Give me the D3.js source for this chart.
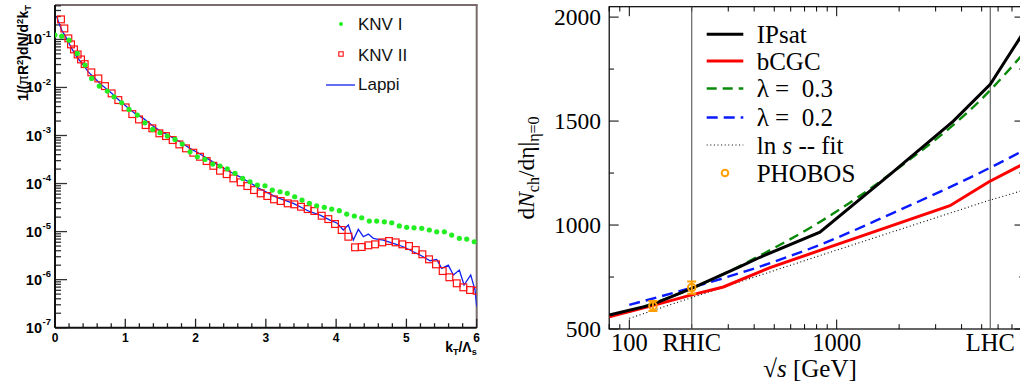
<!DOCTYPE html>
<html>
<head>
<meta charset="utf-8">
<title>kT spectra and multiplicity</title>
<script src="https://d3js.org/d3.v7.min.js"></script>
<style>
  body { margin: 0; background: #fff; }
</style>
</head>
<body>
<div id="chart"></div>
<script>
// ---------- left panel data (kT / Lambda_s , 1/(pi R^2) dN/d^2kT) ----------
const knv1K = [0.00, 0.095, 0.20, 0.317, 0.427, 0.522, 0.63, 0.744, 0.84, 0.949, 1.053, 1.171, 1.28, 1.39, 1.494,
  1.598, 1.707, 1.811, 1.921, 2.025, 2.134, 2.244, 2.348, 2.452, 2.561, 2.67, 2.775, 2.879, 2.988, 3.092, 3.202,
  3.305, 3.41, 3.515, 3.619, 3.723, 3.832, 3.937, 4.045, 4.15, 4.259, 4.364, 4.472, 4.577, 4.686, 4.791, 4.899,
  5.004, 5.108, 5.218, 5.326, 5.431, 5.54, 5.644, 5.753, 5.858, 5.966];
const knv1V = [0.123, 0.117, 0.0966, 0.0511, 0.0292, 0.0154, 0.01067, 0.00839, 0.00638, 0.0048, 0.00349, 0.00266,
  0.00184, 0.00134, 0.00114, 9.73e-4, 8.3e-4, 6.64e-4, 4.57e-4, 3.61e-4, 3.18e-4, 2.54e-4, 2.31e-4, 2.03e-4,
  1.63e-4, 1.28e-4, 1.09e-4, 9.31e-5, 9.0e-5, 7.33e-5, 6.75e-5, 6.25e-5, 5.31e-5, 4.54e-5, 3.87e-5, 3.45e-5,
  3.2e-5, 2.94e-5, 2.72e-5, 2.32e-5, 2.11e-5, 1.94e-5, 1.66e-5, 1.66e-5, 1.6e-5, 1.53e-5, 1.31e-5, 1.23e-5,
  1.2e-5, 1.17e-5, 1.08e-5, 9.93e-6, 9.93e-6, 8.47e-6, 7.24e-6, 7.0e-6, 6.15e-6];

const knv2K = [0.085, 0.133, 0.19, 0.228, 0.27, 0.322, 0.37, 0.422, 0.517, 0.617, 0.711, 0.806, 0.901, 1.005, 1.1,
  1.195, 1.29, 1.385, 1.485, 1.579, 1.674, 1.769, 1.864, 1.968, 2.063, 2.158, 2.253, 2.348, 2.443, 2.538, 2.642,
  2.737, 2.832, 2.927, 3.021, 3.116, 3.211, 3.311, 3.405, 3.5, 3.595, 3.69, 3.795, 3.889, 3.984, 4.079, 4.174,
  4.269, 4.364, 4.458, 4.553, 4.657, 4.752, 4.847, 4.942, 5.037, 5.132, 5.227, 5.322, 5.421, 5.516, 5.611, 5.716,
  5.81, 5.905, 6.0];
const knv2V = [0.261, 0.169, 0.105, 0.0787, 0.0619, 0.0486, 0.0383, 0.0306, 0.0206, 0.0154, 0.01067, 0.00752,
  0.00546, 0.00385, 0.00279, 0.00216, 0.00165, 0.00141, 0.00111, 9.73e-4, 8.04e-4, 6.53e-4, 5.4e-4, 4.38e-4,
  3.61e-4, 2.94e-4, 2.34e-4, 1.85e-4, 1.57e-4, 1.28e-4, 1.06e-4, 8.87e-5, 7.33e-5, 6.25e-5, 5.5e-5, 4.69e-5,
  4.33e-5, 3.87e-5, 3.69e-5, 3.29e-5, 2.94e-5, 2.68e-5, 2.14e-5, 1.82e-5, 1.44e-5, 1.08e-5, 7.82e-6, 4.71e-6,
  4.78e-6, 5.18e-6, 5.43e-6, 5.97e-6, 6.37e-6, 5.97e-6, 5.43e-6, 5.01e-6, 4.13e-6, 3.37e-6, 2.65e-6, 2.08e-6,
  1.51e-6, 1.12e-6, 8.39e-7, 6.92e-7, 6.08e-7, 5.89e-7];

const lappiK = [0.024, 0.095, 0.166, 0.237, 0.308, 0.403, 0.474, 0.569, 0.664, 0.783, 0.901, 1.02, 1.138, 1.257,
  1.376, 1.494, 1.636, 1.779, 1.921, 2.063, 2.205, 2.348, 2.49, 2.632, 2.775, 2.917, 3.154, 3.391, 3.628, 3.771,
  3.913, 4.017, 4.102, 4.174, 4.245, 4.316, 4.387, 4.458, 4.529, 4.6, 4.671, 4.813, 4.956, 5.098, 5.24, 5.336,
  5.431, 5.502, 5.596, 5.668, 5.753, 5.82, 5.915, 5.976, 6.0];
const lappiV = [0.295, 0.156, 0.105, 0.0649, 0.0435, 0.0292, 0.0211, 0.0154, 0.0112, 0.00813, 0.00564, 0.00395,
  0.00288, 0.00227, 0.00165, 0.00125, 9.73e-4, 7.4e-4, 5.4e-4, 4.11e-4, 3.08e-4, 2.31e-4, 1.76e-4, 1.38e-4,
  1.04e-4, 7.76e-5, 5.16e-5, 3.87e-5, 2.59e-5, 2.21e-5, 1.74e-5, 1.49e-5, 1.08e-5, 1.37e-5, 6.67e-6, 1.11e-5,
  7.82e-6, 8.89e-6, 7.24e-6, 6.9e-6, 6.67e-6, 5.69e-6, 4.84e-6, 3.81e-6, 3.0e-6, 2.48e-6, 2.64e-6, 1.72e-6,
  2.01e-6, 1.25e-6, 1.58e-6, 7.73e-7, 1.25e-6, 6.08e-7, 2.74e-7];

const kxTicks = [0, 1, 2, 3, 4, 5, 6];
const kyDecades = [-7, -6, -5, -4, -3, -2, -1];

// ---------- right panel data (sqrt(s) in GeV, dN_ch/deta) ----------
const ipsatS = [80, 128, 200, 342, 427, 830, 1840, 3650, 5500, 8000];
const ipsatN = [567, 616, 695, 800, 845, 966, 1250, 1500, 1677, 1930];
const bcgcS = [80, 128, 200, 284, 477, 830, 3516, 5400, 8000];
const bcgcN = [559, 611, 664, 702, 795, 878, 1093, 1207, 1295];
const lam3S = [100, 200, 494, 830, 1840, 5400, 8000];
const lam3N = [583, 695, 887, 1015, 1250, 1640, 1828];
const lam2S = [100, 200, 494, 830, 1840, 5400, 8000];
const lam2N = [616, 699, 822, 905, 1055, 1272, 1360];
const lnsS = [100, 200, 830, 5400, 8000];
const lnsN = [551, 651, 853, 1118, 1168];
const phobosS = [130, 200];
const phobosN = [611, 699];
const phobosErr = [24, 30];

const sxLabels = [[100, "100"], [200, "RHIC"], [1000, "1000"], [5500, "LHC"]];
const syLabels = [500, 1000, 1500, 2000];
const markerLines = [200, 5500];

const zip = (a, b) => a.map((v, i) => [v, b[i]]);

const svg = d3.select("#chart").append("svg")
    .attr("width", 1020)
    .attr("height", 383);

// =================== LEFT PANEL ===================
const kx = d3.scaleLinear().domain([0, 6]).range([55, 476.7]);
const ky = d3.scaleLog().domain([1e-7, 0.52]).range([327.7, 5]);
const L = svg.append("g").attr("font-family", "'Liberation Sans', Arial, sans-serif");

svg.append("clipPath").attr("id", "clipL").append("rect")
    .attr("x", kx(0)).attr("y", ky(0.52))
    .attr("width", kx(6) - kx(0)).attr("height", ky(1e-7) - ky(0.52));

// frame: top/right grey, left/bottom black
L.append("line").attr("x1", kx(0)).attr("x2", kx(6) + 1).attr("y1", ky(0.52)).attr("y2", ky(0.52))
    .attr("stroke", "#7a6c6c").attr("stroke-width", 2);
L.append("line").attr("x1", kx(6)).attr("x2", kx(6)).attr("y1", ky(0.52)).attr("y2", ky(1e-7))
    .attr("stroke", "#7a6c6c").attr("stroke-width", 2);

// x ticks every 0.2, pointing inward
const kxMinor = d3.range(0, 31).map(i => i * 0.2);
L.selectAll("line.kxt").data(kxMinor).join("line")
    .attr("x1", d => kx(d)).attr("x2", d => kx(d))
    .attr("y1", ky(1e-7)).attr("y2", (d, i) => ky(1e-7) - (i % 5 === 0 ? 9 : 4.5))
    .attr("stroke", "#222").attr("stroke-width", 1.3);

// y log ticks inward
L.selectAll("line.kyt").data(ky.ticks()).join("line")
    .attr("x1", kx(0)).attr("y1", d => ky(d)).attr("y2", d => ky(d))
    .attr("x2", d => {
      const e = Math.log10(d);
      return kx(0) + (Math.abs(e - Math.round(e)) < 1e-6 ? 12 : 6);
    })
    .attr("stroke", "#333").attr("stroke-width", 1.3);

L.append("line").attr("x1", kx(0)).attr("x2", kx(6)).attr("y1", ky(1e-7)).attr("y2", ky(1e-7))
    .attr("stroke", "#111").attr("stroke-width", 2);
L.append("line").attr("x1", kx(0)).attr("x2", kx(0)).attr("y1", ky(0.52)).attr("y2", ky(1e-7))
    .attr("stroke", "#111").attr("stroke-width", 2);

// tick labels
L.selectAll("text.kxl").data(kxTicks).join("text")
    .attr("x", d => kx(d)).attr("y", 342)
    .attr("text-anchor", "middle").attr("font-size", 12).attr("font-weight", "bold")
    .text(d => d);

kyDecades.forEach(e => {
  const y = ky(Math.pow(10, e));
  L.append("text").attr("x", 42).attr("y", y + 5)
      .attr("text-anchor", "end").attr("font-size", 14.5).attr("font-weight", "bold").text("10");
  L.append("text").attr("x", 42.5).attr("y", y - 2.5)
      .attr("font-size", 9.5).attr("font-weight", "bold").text(e);
});

// axis titles
const lyt = L.append("text")
    .attr("transform", "translate(28,5) rotate(-90)")
    .attr("text-anchor", "end").attr("font-size", 14).attr("font-weight", "bold");
lyt.append("tspan").text("1/(");
lyt.append("tspan").attr("font-weight", "normal").text("π");
lyt.append("tspan").text("R");
lyt.append("tspan").attr("dy", -5).attr("font-size", 9.5).text("2");
lyt.append("tspan").attr("dy", 5).text(")dN/d");
lyt.append("tspan").attr("dy", -5).attr("font-size", 9.5).text("2");
lyt.append("tspan").attr("dy", 5).text("k");
lyt.append("tspan").attr("dy", 3).attr("font-size", 9.5).text("T");

const lxt = L.append("text").attr("x", kx(6)).attr("y", 352)
    .attr("text-anchor", "end").attr("font-size", 14).attr("font-weight", "bold");
lxt.append("tspan").text("k");
lxt.append("tspan").attr("dy", 3).attr("font-size", 9).text("T");
lxt.append("tspan").attr("dy", -3).text("/Λ");
lxt.append("tspan").attr("dy", 3).attr("font-size", 9).text("s");

// data
const plotL = L.append("g").attr("clip-path", "url(#clipL)");
plotL.append("path")
    .attr("d", d3.line().x(d => kx(d[0])).y(d => ky(d[1]))(zip(lappiK, lappiV)))
    .attr("fill", "none").attr("stroke", "#1020f0").attr("stroke-width", 1.3);
plotL.selectAll("rect.knv2").data(zip(knv2K, knv2V)).join("rect")
    .attr("x", d => kx(d[0]) - 3.4).attr("y", d => ky(d[1]) - 3.4)
    .attr("width", 6.8).attr("height", 6.8)
    .attr("fill", "none").attr("stroke", "#ff1010").attr("stroke-width", 1.2);
plotL.selectAll("circle.knv1").data(zip(knv1K, knv1V)).join("circle")
    .attr("cx", d => kx(d[0])).attr("cy", d => ky(d[1])).attr("r", 2.6)
    .attr("fill", "#22ee22");

// legend
L.append("circle").attr("cx", 341).attr("cy", 24).attr("r", 2).attr("fill", "#22ee22");
L.append("rect").attr("x", 338.8).attr("y", 51.8).attr("width", 4.4).attr("height", 4.4)
    .attr("fill", "none").attr("stroke", "#ff1010").attr("stroke-width", 1.1);
L.append("line").attr("x1", 326).attr("x2", 355).attr("y1", 85).attr("y2", 85)
    .attr("stroke", "#1020f0").attr("stroke-width", 1.3);
[["KNV I", 29.5], ["KNV II", 60.5], ["Lappi", 89.5]].forEach(([t, y]) => {
  L.append("text").attr("x", 358).attr("y", y).attr("font-size", 17).attr("fill", "#111").text(t);
});

// =================== RIGHT PANEL ===================
const sx = d3.scaleLog().domain([80, 8000]).range([609.2, 1024]);
const sy = d3.scaleLinear().domain([500, 2050]).range([329, 6.7]);
const R = svg.append("g").attr("font-family", "'Liberation Serif', 'Times New Roman', serif");

svg.append("clipPath").attr("id", "clipR").append("rect")
    .attr("x", sx(80)).attr("y", sy(2050))
    .attr("width", sx(8000) - sx(80)).attr("height", sy(500) - sy(2050));

// ticks on all four sides, inward
const sxT = sx.ticks();
const isDec = d => Math.abs(Math.log10(d) - Math.round(Math.log10(d))) < 1e-6;
R.selectAll("line.sxb").data(sxT).join("line")
    .attr("x1", d => sx(d)).attr("x2", d => sx(d))
    .attr("y1", sy(500)).attr("y2", d => sy(500) - (isDec(d) ? 9.5 : 4.8))
    .attr("stroke", "#000").attr("stroke-width", 1);
R.selectAll("line.sxtop").data(sxT).join("line")
    .attr("x1", d => sx(d)).attr("x2", d => sx(d))
    .attr("y1", sy(2050)).attr("y2", d => sy(2050) + (isDec(d) ? 9.5 : 4.8))
    .attr("stroke", "#000").attr("stroke-width", 1);
const syT = d3.range(500, 2050, 250);
R.selectAll("line.syl").data(syT).join("line")
    .attr("x1", sx(80)).attr("x2", d => sx(80) + (d % 500 === 0 ? 9.5 : 4.8))
    .attr("y1", d => sy(d)).attr("y2", d => sy(d))
    .attr("stroke", "#000").attr("stroke-width", 1);
R.selectAll("line.syr").data(syT).join("line")
    .attr("x1", sx(8000)).attr("x2", d => sx(8000) - (d % 500 === 0 ? 9.5 : 4.8))
    .attr("y1", d => sy(d)).attr("y2", d => sy(d))
    .attr("stroke", "#000").attr("stroke-width", 1);

R.append("rect").attr("x", sx(80)).attr("y", sy(2050))
    .attr("width", sx(8000) - sx(80)).attr("height", sy(500) - sy(2050))
    .attr("fill", "none").attr("stroke", "#000").attr("stroke-width", 1.2);

// RHIC / LHC markers
R.selectAll("line.mk").data(markerLines).join("line")
    .attr("x1", d => sx(d)).attr("x2", d => sx(d))
    .attr("y1", sy(2050)).attr("y2", sy(500))
    .attr("stroke", "#555").attr("stroke-width", 1.1);

// labels
R.selectAll("text.syl").data(syLabels).join("text")
    .attr("x", 601).attr("y", d => sy(d) + 8)
    .attr("text-anchor", "end").attr("font-size", 23.5).text(d => d);
R.selectAll("text.sxl").data(sxLabels).join("text")
    .attr("x", d => sx(d[0])).attr("y", 351)
    .attr("text-anchor", "middle").attr("font-size", 24.5).text(d => d[1]);

const rxt = R.append("text").attr("x", 810).attr("y", 377)
    .attr("text-anchor", "middle").attr("font-size", 25);
rxt.append("tspan").text("√");
rxt.append("tspan").attr("font-style", "italic").text("s");
rxt.append("tspan").text(" [GeV]");

const ryt = R.append("text").attr("transform", "translate(534,168) rotate(-90)")
    .attr("text-anchor", "middle").attr("font-size", 23.5);
ryt.append("tspan").text("d");
ryt.append("tspan").attr("font-style", "italic").text("N");
ryt.append("tspan").attr("dy", 5).attr("font-size", 16).text("ch");
ryt.append("tspan").attr("dy", -5).text("/dη|");
ryt.append("tspan").attr("dy", 5).attr("font-size", 16).text("η=0");

// curves
const line = d3.line().x(d => sx(d[0])).y(d => sy(d[1]));
const smooth = d3.line().x(d => sx(d[0])).y(d => sy(d[1])).curve(d3.curveMonotoneX);
const plotR = R.append("g").attr("clip-path", "url(#clipR)");

const series = [
  { name: "IPsat", s: ipsatS, n: ipsatN, color: "#000", w: 3, dash: null, gen: line },
  { name: "bCGC", s: bcgcS, n: bcgcN, color: "#ff0000", w: 3, dash: null, gen: line },
  { name: "λ =  0.3", s: lam3S, n: lam3N, color: "#0a8a0a", w: 2.4, dash: "10,6", gen: smooth },
  { name: "λ =  0.2", s: lam2S, n: lam2N, color: "#0a1aff", w: 2.4, dash: "11,6", gen: smooth },
  { name: "ln s -- fit", s: lnsS, n: lnsN, color: "#000", w: 1.1, dash: "1,2.6", gen: line }
];

plotR.selectAll("path.cv").data(series.slice().reverse()).join("path")
    .attr("d", d => d.gen(zip(d.s, d.n)))
    .attr("fill", "none")
    .attr("stroke", d => d.color)
    .attr("stroke-width", d => d.w)
    .attr("stroke-dasharray", d => d.dash);

// PHOBOS points with error bars
const ph = zip(phobosS, phobosN).map((d, i) => ({ s: d[0], n: d[1], e: phobosErr[i] }));
const phG = plotR.selectAll("g.ph").data(ph).join("g").attr("stroke", "#ff9f00").attr("stroke-width", 2);
phG.append("line").attr("x1", d => sx(d.s)).attr("x2", d => sx(d.s))
    .attr("y1", d => sy(d.n - d.e)).attr("y2", d => sy(d.n + d.e));
phG.append("line").attr("x1", d => sx(d.s) - 4.5).attr("x2", d => sx(d.s) + 4.5)
    .attr("y1", d => sy(d.n - d.e)).attr("y2", d => sy(d.n - d.e));
phG.append("line").attr("x1", d => sx(d.s) - 4.5).attr("x2", d => sx(d.s) + 4.5)
    .attr("y1", d => sy(d.n + d.e)).attr("y2", d => sy(d.n + d.e));
phG.append("circle").attr("cx", d => sx(d.s)).attr("cy", d => sy(d.n)).attr("r", 3.8).attr("fill", "none");

// legend
const legY = [34.3, 61, 88.5, 117.5, 145, 173];
series.forEach((d, i) => {
  R.append("line").attr("x1", 706.7).attr("x2", 743.3).attr("y1", legY[i]).attr("y2", legY[i])
      .attr("stroke", d.color).attr("stroke-width", d.w).attr("stroke-dasharray", d.dash);
});
R.append("circle").attr("cx", 725).attr("cy", legY[5]).attr("r", 3.3)
    .attr("fill", "none").attr("stroke", "#ff9f00").attr("stroke-width", 2);

const legText = ["IPsat", "bCGC", "λ =  0.3", "λ =  0.2", null, "PHOBOS"];
legText.forEach((t, i) => {
  if (t === null) return;
  R.append("text").attr("x", 756.7).attr("y", legY[i] + 8.5).attr("font-size", 25)
      .attr("xml:space", "preserve").text(t);
});
const lnT = R.append("text").attr("x", 756.7).attr("y", legY[4] + 8.5).attr("font-size", 25);
lnT.append("tspan").text("ln ");
lnT.append("tspan").attr("font-style", "italic").text("s");
lnT.append("tspan").text(" -- fit");
</script>
</body>
</html>
